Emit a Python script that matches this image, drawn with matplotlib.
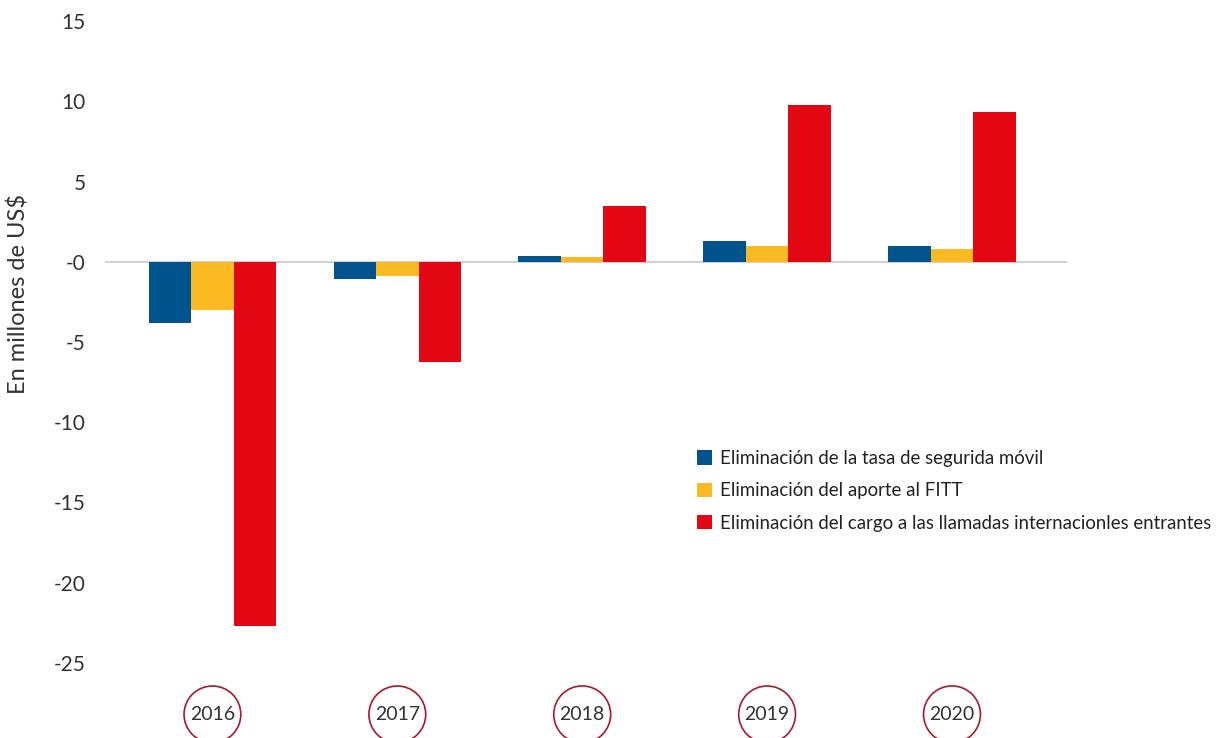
import matplotlib
matplotlib.use("Agg")
from matplotlib import pyplot as plt
import numpy as np

# data
years = ["2016", "2017", "2018", "2019", "2020"]
tasa_movil = [-3.8, -1.1, 0.37, 1.3, 1.0]
aporte_fitt = [-3.0, -0.9, 0.3, 1.0, 0.8]
cargo_llamadas = [-22.7, -6.25, 3.45, 9.75, 9.3]
series_names = ["Eliminación de la tasa de segurida móvil",
                "Eliminación del aporte al FITT",
                "Eliminación del cargo a las llamadas internacionles entrantes"]
colors = ["#00538c", "#fbba22", "#e30613"]
yticks = [15, 10, 5, 0, -5, -10, -15, -20, -25]
ytick_labels = ["15", "10", "5", "-0", "-5", "-10", "-15", "-20", "-25"]

plt.rcParams['font.family'] = ['Lato', 'DejaVu Sans']

fig = plt.figure(figsize=(12.22, 7.38), dpi=100)
ax = fig.add_axes([105/1222, 75/738, 962/1222, 642/738])

x = np.arange(len(years))
w = 0.23
for i, vals in enumerate([tasa_movil, aporte_fitt, cargo_llamadas]):
    ax.bar(x + (i - 1) * w, vals, width=w, color=colors[i], label=series_names[i], zorder=2)

ax.axhline(0, color="#c8c8c8", lw=1.2, zorder=1)
ax.set_xlim(-0.581, 4.622)
ax.set_ylim(-25, 15)
ax.set_yticks(yticks)
ax.set_yticklabels(ytick_labels, fontsize=15, color="#333333")
ax.tick_params(axis="y", length=0, pad=14)
ax.set_xticks([])
for s in ax.spines.values():
    s.set_visible(False)

# year labels in circles under each group
for xi, yr in zip(x, years):
    ax.annotate(yr, xy=(xi, 0), xycoords=("data", "figure fraction"),
                xytext=(0, 17), textcoords="offset points",
                ha="center", va="center", fontsize=14, color="#333333",
                bbox=dict(boxstyle="circle,pad=0.3", fc="white", ec="#a6192e", lw=1.2))

fig.text(19/1222, 1 - 294/738, "En millones de US$", rotation=90, ha="center", va="center",
         fontsize=17, color="#333333")

ax.legend(loc="upper left", bbox_to_anchor=(697/1222, 1 - 450/738), bbox_transform=fig.transFigure,
          frameon=False, fontsize=13.4, handlelength=0.8, handleheight=0.8, handletextpad=0.45,
          labelspacing=0.82, borderpad=0, borderaxespad=0, labelcolor="#222222")

fig.savefig("out.png", dpi=100)
